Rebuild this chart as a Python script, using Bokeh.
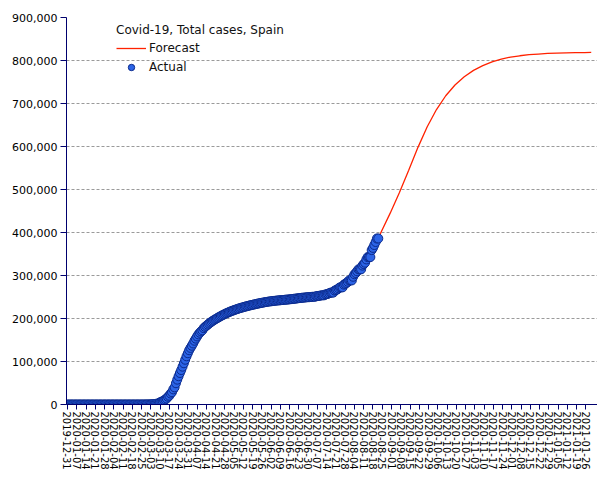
import pandas as pd
from bokeh.plotting import figure
from bokeh.models import (Range1d, FixedTicker, DatetimeTickFormatter, NumeralTickFormatter,
                          Legend, LegendItem, ColumnDataSource)
from bokeh.embed import file_html
from bokeh.resources import INLINE

# ---------------- data ----------------
title_text = "Covid-19, Total cases, Spain"
actual_start = "2019-12-31"
actual_cases = (
    [0] * 29 + [1] * 8 + [2] * 16 +
    [6, 13, 15, 32, 45, 84, 120, 165,
     222, 259, 400, 500, 673, 1073, 1695, 2277, 2277, 5232, 6391, 7798, 9942, 11748,
     13910, 17963, 20410, 25374, 28603, 35136, 39885, 49515, 57786, 65719, 73235, 80110,
     87956, 95923, 104118, 112065, 119199,
     126168, 131646, 136675, 141942, 148220, 153222, 158273, 163027, 166831, 170099,
     172541, 177644] +
    [180500, 183000, 185700, 188200, 190600, 192800, 194900, 196800, 198700, 200500,
     202300, 204100, 205800, 207400, 209000, 210500, 212000, 213400] +
    [214700, 216000, 217200, 218400, 219500, 220600, 221700, 222700, 223700, 224600,
     225500, 226400, 227300, 228100, 228900, 229700, 230500, 231200, 231900, 232600,
     233300, 234000, 234700, 235300, 235900, 236500, 237100, 237700, 238300, 238800,
     239300] +
    [239700, 240100, 240500, 240900, 241300, 241600, 241900, 242200, 242500, 242800,
     243100, 243400, 243700, 244000, 244300, 244600, 244900, 245300, 245700, 246100,
     246500, 246900, 247300, 247700, 248100, 248400, 248700, 249000, 249300, 249500] +
    [249659, 250103, 250545, 250545, 250545, 251789, 252130, 252513, 253056, 253908,
     253908, 253908, 255953, 256619, 257494, 258855, 260255, 260255, 260255, 264836,
     266194, 267551, 270166, 272421, 272421, 272421, 278782, 280610, 282641, 285430,
     288522] +
    [288522, 288522, 297054, 302814, 305767, 309855, 314362, 314362, 314362, 322980,
     326612, 329784, 337334, 342813, 342813, 342813, 359082, 364196, 370867, 377906,
     386054, 386054]
)
forecast_dates = ["2020-08-22", "2020-08-24", "2020-08-31", "2020-09-07", "2020-09-14",
                  "2020-09-21", "2020-09-28", "2020-10-05", "2020-10-12", "2020-10-19",
                  "2020-10-26", "2020-11-02", "2020-11-09", "2020-11-16", "2020-11-23",
                  "2020-11-30", "2020-12-07", "2020-12-14", "2020-12-21", "2020-12-28",
                  "2021-01-04", "2021-01-11", "2021-01-18", "2021-01-25", "2021-01-30"]
forecast_cases = [386000, 400000, 445000, 493000, 545000,
                  598000, 646000, 686000, 718000, 743000,
                  762000, 777000, 788000, 797000, 803000,
                  808000, 811000, 813500, 815000, 816500,
                  817300, 817800, 818200, 818500, 818700]
tick_first, tick_last = "2019-12-31", "2021-01-26"
y_ticks = [0, 100000, 200000, 300000, 400000, 500000, 600000, 700000, 800000, 900000]

# ---------------- build ----------------
actual_dates = pd.date_range(actual_start, periods=len(actual_cases), freq="D")
src_a = ColumnDataSource(dict(x=actual_dates, y=actual_cases))
src_f = ColumnDataSource(dict(x=pd.to_datetime(forecast_dates), y=forecast_cases))

tick_dates = pd.date_range(tick_first, tick_last, freq="7D")
tick_ms = [int(t.value // 10**6) for t in tick_dates]

x0 = pd.Timestamp("2019-12-31") - pd.Timedelta(hours=18)
x1 = x0 + pd.Timedelta(days=401.5)

p = figure(width=597, height=472, output_backend="svg", toolbar_location=None,
           x_axis_type="datetime",
           x_range=Range1d(x0, x1), y_range=Range1d(0, 900000),
           min_border_left=66, min_border_right=0, min_border_top=17, min_border_bottom=67)
p.outline_line_color = None
p.background_fill_color = "white"
p.border_fill_color = "white"

AXC = "#00006e"
FONT = "DejaVu Sans"

# y axis
p.yaxis.ticker = FixedTicker(ticks=y_ticks)
p.yaxis.formatter = NumeralTickFormatter(format="0,0")
p.yaxis.axis_line_color = AXC
p.yaxis.major_tick_line_color = AXC
p.yaxis.major_tick_out = 6
p.yaxis.major_tick_in = 0
p.yaxis.minor_tick_line_color = None
p.yaxis.major_label_standoff = 3
p.yaxis.major_label_text_font = FONT
p.yaxis.major_label_text_font_size = "11px"
p.yaxis.major_label_text_color = "#000000"

# x axis
p.xaxis.ticker = FixedTicker(ticks=tick_ms)
fmt = "%Y-%m-%d"
p.xaxis.formatter = DatetimeTickFormatter(milliseconds=fmt, seconds=fmt, minsec=fmt, minutes=fmt,
                                          hourmin=fmt, hours=fmt, days=fmt, months=fmt, years=fmt)
p.xaxis.major_label_orientation = "vertical"
p.xaxis.axis_line_color = AXC
p.xaxis.major_tick_line_color = AXC
p.xaxis.major_tick_out = 5
p.xaxis.major_tick_in = 0
p.xaxis.minor_tick_line_color = None
p.xaxis.major_label_standoff = 2
p.xaxis.major_label_text_font = FONT
p.xaxis.major_label_text_font_size = "10px"
p.xaxis.major_label_text_color = "#000000"

# grid
p.xgrid.grid_line_color = None
p.ygrid.ticker = FixedTicker(ticks=y_ticks)
p.ygrid.grid_line_color = "#9a9a9a"
p.ygrid.grid_line_dash = "3 2"
p.ygrid.grid_line_width = 1

# glyphs
r_f = p.line("x", "y", source=src_f, line_color="#ff2200", line_width=1.3)
r_a = p.scatter("x", "y", source=src_a, marker="circle", size=9,
                fill_color="#2c64e6", line_color="#0b2a8c", line_width=1)

legend = Legend(items=[LegendItem(label="Forecast", renderers=[r_f]),
                       LegendItem(label="Actual", renderers=[r_a])],
                title=title_text, location=(50, 329))
legend.title_text_font = FONT
legend.title_text_font_size = "12px"
legend.title_text_font_style = "normal"
legend.title_text_color = "#111111"
legend.title_standoff = 3
legend.label_text_font = FONT
legend.label_text_font_size = "12px"
legend.label_text_color = "#111111"
legend.label_standoff = 3
legend.label_height = 16
legend.glyph_height = 16
legend.glyph_width = 30
legend.spacing = 3
legend.padding = 0
legend.margin = 0
legend.border_line_color = None
legend.background_fill_alpha = 0
p.add_layout(legend, "center")

open("out.html", "w").write(file_html(p, INLINE))
